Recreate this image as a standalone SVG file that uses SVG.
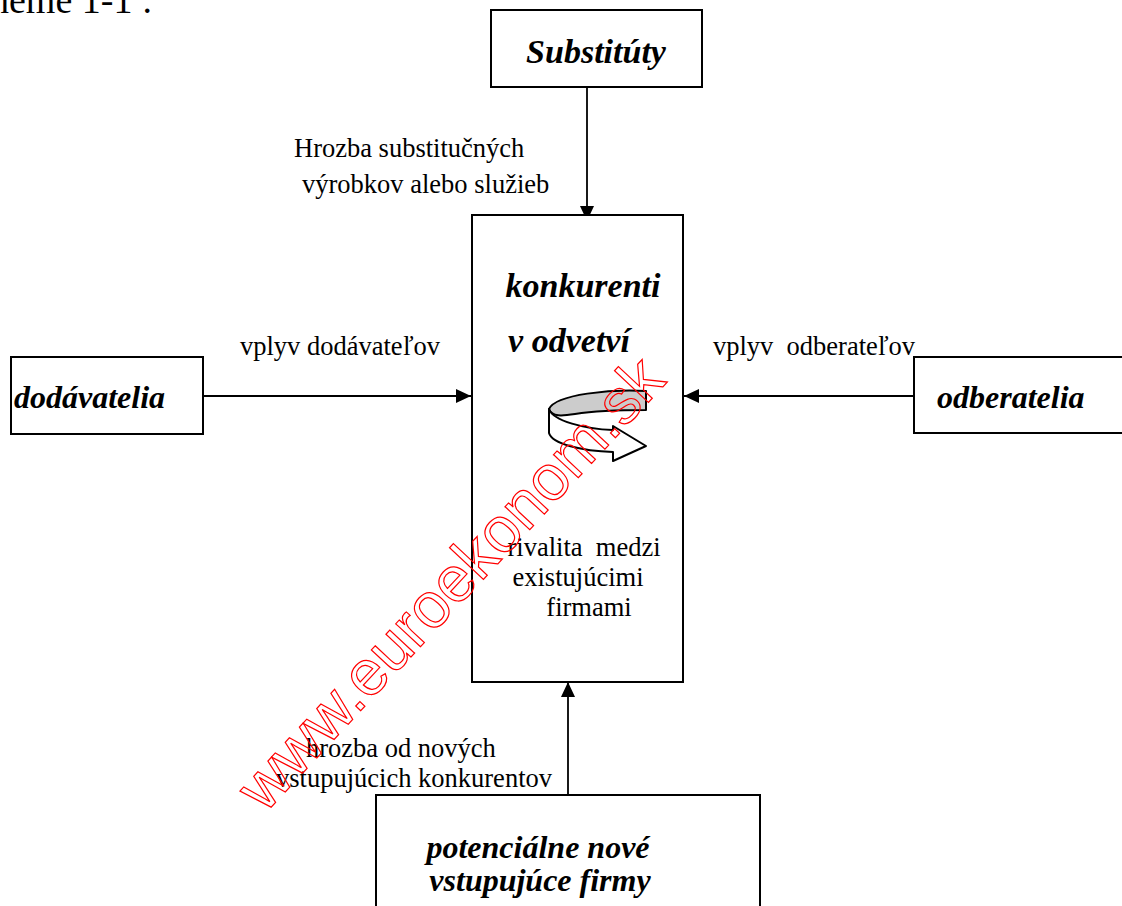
<svg xmlns="http://www.w3.org/2000/svg" width="1122" height="906" viewBox="0 0 1122 906">
<defs>
<marker id="ah" markerUnits="userSpaceOnUse" markerWidth="16" markerHeight="15" refX="15" refY="7" orient="auto">
<path d="M0,0 L15,7 L0,14 Z" fill="#000"/>
</marker>
<style>
.box{fill:#fff;stroke:#000;stroke-width:2}
.t{font-family:"Liberation Serif","Times New Roman",serif;font-size:26.5px;fill:#000}
.b{font-family:"Liberation Serif","Times New Roman",serif;font-size:32px;font-weight:bold;font-style:italic;fill:#000}
.c{stroke:#000;stroke-width:1.8;fill:none;marker-end:url(#ah)}
.wm{font-family:"Liberation Sans",Arial,sans-serif;font-size:64px;fill:none;stroke:#f00;stroke-width:1.2}
</style>
</defs>
<rect width="1122" height="906" fill="#fff"/>
<text class="t" x="-10" y="13" style="font-size:38px">heme 1-1 :</text>

<g id="connectors">
<line class="c" x1="587" y1="87" x2="587" y2="221"/>
<line class="c" x1="203" y1="396" x2="471" y2="396"/>
<line class="c" x1="914" y1="396" x2="684" y2="396"/>
<line class="c" x1="568" y1="795" x2="568" y2="682"/>
</g>

<g id="substituty">
<rect class="box" x="491" y="10" width="211" height="77"/>
<text class="b" x="596" y="63" text-anchor="middle" style="font-size:34px">Substitúty</text>
</g>
<text class="t" x="294" y="157">Hrozba substitučných</text>
<text class="t" x="302" y="193">výrobkov alebo služieb</text>

<g id="konkurenti">
<rect class="box" x="472" y="215" width="211" height="467"/>
<text class="b" x="583" y="297" text-anchor="middle" style="font-size:34px">konkurenti</text>
<text class="b" x="569" y="352" text-anchor="middle" style="font-size:34px">v odvetví</text>
<g id="cyklus" stroke="#000" stroke-width="2" stroke-linejoin="round">
<path d="M646,391 C612,389 556,394 549,409 C552,417 562,416 575,414 C600,410 628,410 646,410 Z" fill="#ccc"/>
<path d="M549,409 C553,421 585,429 613,430 L613,426 L646,446 L613,461 L613,452 C582,451 552,444 549,433 Z" fill="#fff"/>
</g>
<text class="t" x="584" y="556" text-anchor="middle" xml:space="preserve">rivalita  medzi</text>
<text class="t" x="578" y="586" text-anchor="middle">existujúcimi</text>
<text class="t" x="589" y="616" text-anchor="middle">firmami</text>
</g>

<g id="dodavatelia">
<rect class="box" x="11" y="357" width="192" height="77"/>
<text class="b" x="14" y="408">dodávatelia</text>
</g>
<text class="t" x="240" y="355">vplyv dodávateľov</text>

<g id="odberatelia">
<rect class="box" x="914" y="357" width="220" height="76"/>
<text class="b" x="937" y="408">odberatelia</text>
</g>
<text class="t" x="713" y="355" xml:space="preserve">vplyv  odberateľov</text>

<g id="nove-firmy">
<rect class="box" x="376" y="795" width="384" height="130"/>
<text class="b" x="538" y="858" text-anchor="middle">potenciálne nové</text>
<text class="b" x="540" y="891" text-anchor="middle">vstupujúce firmy</text>
</g>
<text class="t" x="306" y="757">hrozba od nových</text>
<text class="t" x="276" y="787">vstupujúcich konkurentov</text>

<text class="wm" transform="translate(466,598) rotate(-47)" text-anchor="middle">www.euroekonom.sk</text>
</svg>
